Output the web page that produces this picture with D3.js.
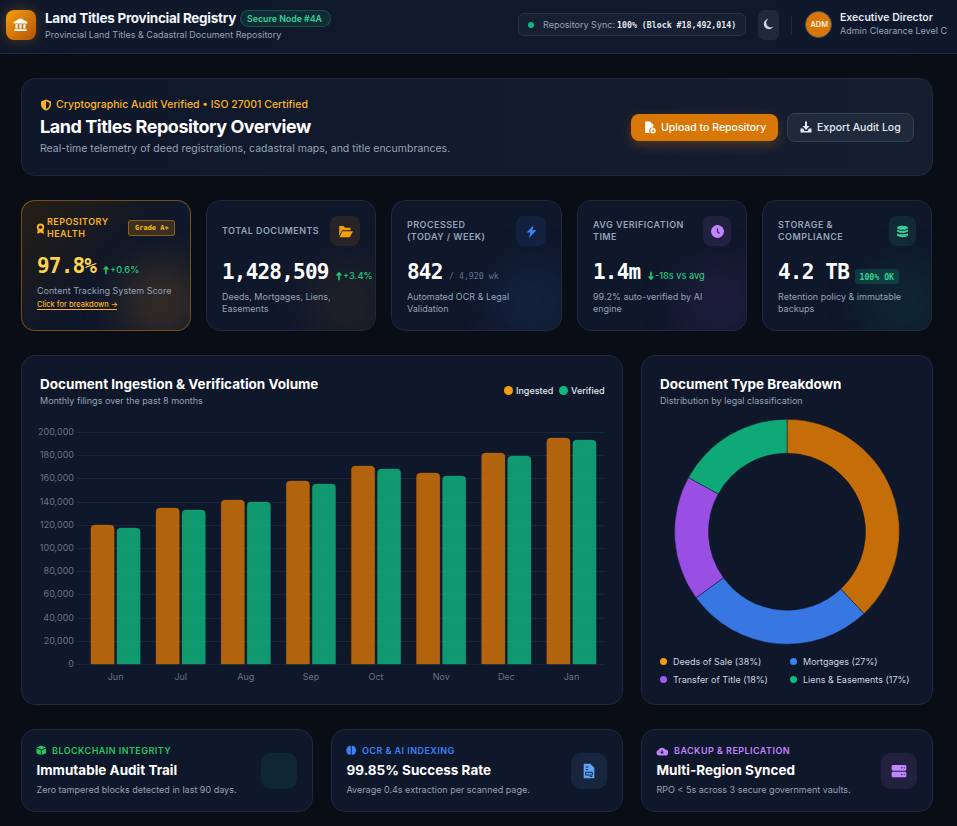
<!DOCTYPE html>
<html>
<head>
<meta charset="utf-8">
<script src="https://cdnjs.cloudflare.com/ajax/libs/d3/7.8.5/d3.min.js"></script>
<style>
html,body{margin:0;padding:0;background:#090d16;overflow:hidden}
#page{position:relative;width:957px;height:826px;overflow:hidden;background:#090d16;font-family:Inter,sans-serif}
.t{position:absolute;white-space:nowrap;line-height:20px;height:20px}
.box{position:absolute;box-sizing:border-box}
.card{position:absolute;box-sizing:border-box;background:#0f172a;border:1px solid #1e293b;border-radius:14px;overflow:hidden}
.mono{font-family:"DejaVu Sans Mono",monospace}
svg.ic{position:absolute;overflow:visible}
#charts{position:absolute;left:0;top:0}
#charts text{font-family:Inter,sans-serif}
</style>
</head>
<body>
<div id="page"></div>
<script>
// chart data
const months = ["Jun", "Jul", "Aug", "Sep", "Oct", "Nov", "Dec", "Jan"];
const ingested = [119500, 134500, 141500, 157500, 170500, 164500, 181500, 194500];
const verified = [117500, 132500, 139500, 155500, 168500, 162500, 179500, 193000];
const docTypes = ["Deeds of Sale", "Mortgages", "Transfer of Title", "Liens & Easements"];
const docShares = [38, 27, 18, 17];

const AMBER = "#f59e0b", GOLD = "#fbb424", BLUE = "#3b82f6", PURPLE = "#a855f7", GREEN = "#10b981";
const page = d3.select("#page");

// helpers: t() puts text with its vertical middle on cy
function t(x, cy, text, size, color, weight, extra, parent){
    const el = (parent || page).append("div").attr("class", "t")
        .style("left", x + "px").style("top", (cy - 10) + "px")
        .style("font-size", size + "px").style("color", color)
        .style("font-weight", weight || 400);
    el.text(text);
    if (extra) Object.keys(extra).forEach(k => el.style(k, extra[k]));
    return el;
}
function mono(x, cy, text, size, color, weight, extra){
    return t(x, cy, text, size, color, weight, extra).classed("mono", true);
}
function box(x, y, w, h, css){
    const el = page.append("div").attr("class", "box")
        .style("left", x + "px").style("top", y + "px")
        .style("width", w + "px").style("height", h + "px");
    Object.keys(css).forEach(k => el.style(k, css[k]));
    return el;
}
function card(x, y, w, h, css){
    const el = page.append("div").attr("class", "card")
        .style("left", x + "px").style("top", y + "px")
        .style("width", w + "px").style("height", h + "px");
    if (css) Object.keys(css).forEach(k => el.style(k, css[k]));
    return el;
}
function icon(x, y, size, color, inner){
    page.append("svg").attr("class", "ic")
        .style("left", x + "px").style("top", y + "px")
        .attr("width", size).attr("height", size)
        .attr("viewBox", "0 0 24 24").attr("fill", color)
        .html(inner);
}
function rgba(hex, a){
    const c = d3.rgb(hex);
    return `rgba(${c.r},${c.g},${c.b},${a})`;
}

const ICONS = {
    bank: '<polygon points="12,2 23,8 23,10.5 1,10.5 1,8"/><rect x="4" y="11.5" width="3.4" height="7"/><rect x="10.3" y="11.5" width="3.4" height="7"/><rect x="16.6" y="11.5" width="3.4" height="7"/><rect x="2" y="19.5" width="20" height="3" rx="1"/>',
    shield: '<path d="M12 1 22 5V11c0 5.500-4 10.500-10 12C6 21.500 2 16.500 2 11V5Z"/><path d="M12 4.500 19 7.300V11c0 3.800-2.500 7.500-7 9Z" fill="#111a2c"/>',
    moon: '<path d="M21 17.500A10.500 10.500 0 1 1 11 1.500 9 9 0 0 0 21 17.500Z"/>',
    upload: '<path d="M4 1h9l6 6v5.500a6 6 0 0 0-6.500 9.500H4Z"/><circle cx="18.500" cy="18" r="5"/><path d="M18.500 15.500v5M16 18h5" stroke="#d97706" stroke-width="1.500"/>',
    download: '<path d="M10 1h4v9h5l-7 8-7-8h5Z"/><path d="M1 15h5l3 5h6l3-5h5v8H1Z"/>',
    ribbon: '<circle cx="12" cy="9" r="8"/><circle cx="12" cy="9" r="3.800" fill="#1f1b1c"/><path d="M6 15l-1.500 8.500 7.500-3 7.500 3L18 15Z"/>',
    folder: '<path d="M2 3h7l2.500 3H20v4H6.500L2 19Z"/><path d="M7 11.500h17L19 21H2.500Z"/>',
    bolt: '<path d="M16 0 3 14h7L7.500 24 21 9.500h-7.500Z"/>',
    clock: '<circle cx="12" cy="12" r="12"/><path d="M12 6v7l4 2.500" fill="none" stroke="#241b3c" stroke-width="2"/>',
    database: '<ellipse cx="12" cy="5" rx="10" ry="3.800"/><path d="M2 8.500c3 3 17 3 20 0V12c-3 3.500-17 3.500-20 0Z"/><path d="M2 15c3 3 17 3 20 0v4c0 2-4.500 3.500-10 3.500S2 21 2 19Z"/>',
    cube: '<path d="M12 1 23 5.500 12 10 1 5.500Z"/><path d="M1 8l10 4V23L1 19Z"/><path d="M23 8l-10 4V23l10-4Z"/>',
    brain: '<path d="M11 2v20C6 23 2.500 20 2.500 17.500 0 14 0 10 2.500 7.500 2.500 4 7 1 11 2Z"/><path d="M13 2v20c5 1 8.500-2 8.500-4.500 2.500-3.500 2.500-7.500 0-10C21.500 4 17 1 13 2Z"/>',
    doc: '<path d="M4 1h10l6 6v16H4Z"/><path d="M7 6h4M7 10h4M7 14h10v4H7ZM13 20h4" fill="none" stroke="#13233f" stroke-width="1.500"/>',
    cloud: '<path d="M6 21a5.500 5.500 0 0 1-1-10.800A7.500 7.500 0 0 1 18.500 9a6 6 0 0 1-.5 12Z"/><path d="M12 10v6M9 13.500l3 3.500 3-3.500" fill="none" stroke="#0f172a" stroke-width="2"/>',
    server: '<rect x="1" y="3" width="22" height="8.500" rx="2"/><rect x="1" y="13" width="22" height="8.500" rx="2"/><path d="M15 7.200h2M19 7.200h1.500M15 17.200h2M19 17.200h1.500" stroke="#201a3a" stroke-width="1.500"/>',
    up: '<path d="M12 2 20 11h-6v11h-4V11H4Z"/>',
    down: '<path d="M12 22 20 13h-6V2h-4v11H4Z"/>'
};

// ---- header
box(0, 0, 957, 54, {background: "linear-gradient(90deg,#0f172a,#111a2c 60%,#0f172a)", "border-bottom": "1px solid #1e293b"});
box(6, 10, 30, 30, {background: "linear-gradient(135deg,#f59e0b,#b45309)", "border-radius": "8px", "box-shadow": "0 0 14px rgba(245,158,11,.28)"});
icon(13, 17, 15, "#fff", ICONS.bank);
t(45, 18, "Land Titles Provincial Registry", 13.500, "#f1f5f9", 700, {"letter-spacing": "-.02em"});
box(240, 10, 91, 17, {background: "rgba(16,185,129,.12)", border: "1px solid rgba(16,185,129,.3)", "border-radius": "9px"});
t(247, 18.500, "Secure Node #4A", 8.800, "#34d399", 600);
t(45, 35, "Provincial Land Titles & Cadastral Document Repository", 9, "#94a3b8", 400);

box(518, 13, 228, 23, {background: "#172033", border: "1px solid #263247", "border-radius": "6px"});
box(528, 22, 6, 6, {background: GREEN, "border-radius": "50%"});
t(543, 25, "Repository Sync:", 9, "#94a3b8", 400);
mono(617, 25, "100% (Block #18,492,014)", 8.250, "#e2e8f0", 700);
box(758, 10, 21, 30, {background: "#1e293b", "border-radius": "6px"});
icon(763, 18, 12, "#cbd5e1", ICONS.moon);
box(791, 16, 1, 18, {background: "#1e293b"});
box(805, 11, 27, 27, {background: "#d97706", border: "1px solid #475569", "border-radius": "50%"});
t(810.500, 25, "ADM", 7.500, "#fff", 500);
t(840, 18, "Executive Director", 10.500, "#e2e8f0", 600);
t(840, 31, "Admin Clearance Level C", 9, "#94a3b8", 400);

// ---- overview banner
card(21, 78, 912, 98, {background: "linear-gradient(90deg,#0f172a,#151e2f)", "border-color": "#1e293b"});
icon(39.500, 98.500, 12, GOLD, ICONS.shield);
t(56, 104.500, "Cryptographic Audit Verified • ISO 27001 Certified", 10.500, GOLD, 500);
t(40, 126.500, "Land Titles Repository Overview", 18, "#fff", 700, {"letter-spacing": "-.025em"});
t(40, 149, "Real-time telemetry of deed registrations, cadastral maps, and title encumbrances.", 10.500, "#94a3b8", 400);
box(631, 114, 147, 27, {background: "#d97706", "border-radius": "8px", "box-shadow": "0 4px 12px rgba(217,119,6,.3)"});
icon(643, 121, 13, "#fff", ICONS.upload);
t(661, 127.500, "Upload to Repository", 10.500, "#fff", 500);
box(787, 113, 127, 29, {background: "#1e293b", border: "1px solid #334155", "border-radius": "8px"});
icon(800, 121, 12, "#e2e8f0", ICONS.download);
t(817, 127.500, "Export Audit Log", 10.500, "#e2e8f0", 500);

// ---- kpi cards
const valueFont = {"letter-spacing": "-.8px"};
function kpi(x, w, glow, alpha, css){
    const c = card(x, 200, w, 131, css);
    c.append("div").style("position", "absolute").style("right", "-14px").style("bottom", "-14px")
        .style("width", "84px").style("height", "84px").style("border-radius", "50%")
        .style("background", rgba(glow, alpha)).style("filter", "blur(20px)");
}
function iconBox(x, w, color, ic, s){
    box(x, 216, w, 30, {background: rgba(color, .1), "border-radius": "8px"});
    icon(x + (w - s) / 2, 231 - s / 2, s, color, ic);
}
function kpiLabel(x, lines){
    lines.forEach((l, i) => t(x, (lines.length == 1 ? 230.500 : 224.500) + i * 12, l, 9, "#94a3b8", 600, {"letter-spacing": ".05em"}));
}
function kpiDesc(x, lines){
    lines.forEach((l, i) => t(x, 297 + i * 12, l, 9, "#94a3b8", 400));
}
function trend(x, cy, ic, text){
    icon(x, cy - 5, 10, "#22c77a", ic);
    t(x + 9, cy, text, 9.200, "#22c77a", 500);
}

kpi(21, 170, AMBER, .16, {background: "linear-gradient(135deg,rgba(245,158,11,.12),#0f172a 55%)", "border-color": "rgba(245,158,11,.42)"});
icon(35, 223, 11, GOLD, ICONS.ribbon);
t(47, 222, "REPOSITORY", 9, GOLD, 600, {"letter-spacing": ".05em"});
t(47, 234, "HEALTH", 9, GOLD, 600, {"letter-spacing": ".05em"});
box(128, 220, 47, 16, {background: "rgba(245,158,11,.18)", border: "1px solid rgba(245,158,11,.45)", "border-radius": "3px"});
mono(135, 228, "Grade A+", 7, "#fbbf24", 700);
mono(37, 266, "97.8%", 21, "#fcd34d", 700, valueFont);
trend(101, 270, ICONS.up, "+0.6%");
t(37, 291, "Content Tracking System Score", 9, "#94a3b8", 400);
t(37, 305, "Click for breakdown →", 7.500, GOLD, 500);
box(37, 309, 80, 1, {background: GOLD});

kpi(206, 170, AMBER, .07);
kpiLabel(222, ["TOTAL DOCUMENTS"]);
iconBox(330, 30, AMBER, ICONS.folder, 15);
mono(222, 272, "1,428,509", 21, "#fff", 700, valueFont);
trend(334, 276, ICONS.up, "+3.4%");
kpiDesc(222, ["Deeds, Mortgages, Liens,", "Easements"]);

kpi(391, 171, BLUE, .1);
kpiLabel(407, ["PROCESSED", "(TODAY / WEEK)"]);
iconBox(516, 30, BLUE, ICONS.bolt, 13);
mono(407, 272, "842", 21, "#fff", 700, valueFont);
mono(449, 276, "/ 4,920 wk", 8.250, "#64748b", 400);
kpiDesc(407, ["Automated OCR & Legal", "Validation"]);

kpi(577, 170, PURPLE, .09);
kpiLabel(593, ["AVG VERIFICATION", "TIME"]);
iconBox(703, 28, "#c084fc", ICONS.clock, 13);
mono(593, 272, "1.4m", 21, "#fff", 700, valueFont);
trend(646, 276, ICONS.down, "-18s vs avg");
kpiDesc(593, ["99.2% auto-verified by AI", "engine"]);

kpi(762, 170, GREEN, .09);
kpiLabel(778, ["STORAGE &", "COMPLIANCE"]);
iconBox(889, 27, "#34d399", ICONS.database, 13);
mono(778, 272, "4.2 TB", 21, "#fff", 700, valueFont);
box(855, 269, 44, 15, {background: "rgba(16,185,129,.2)", "border-radius": "3px"});
mono(859.500, 276.500, "100% OK", 8.200, "#34d399", 700);
kpiDesc(778, ["Retention policy & immutable", "backups"]);

// ---- chart cards
card(21, 355, 602, 350);
t(40, 384, "Document Ingestion & Verification Volume", 13.500, "#fff", 700);
t(40, 400.500, "Monthly filings over the past 8 months", 9, "#94a3b8", 400);
card(641, 355, 292, 350);
t(660, 384, "Document Type Breakdown", 13.500, "#fff", 700);
t(660, 400.500, "Distribution by legal classification", 9, "#94a3b8", 400);

// ---- bottom cards
function bottomCard(x, color, boxColor, ic, label, title, sub, boxIcon){
    card(x, 729, 292, 83);
    icon(x + 15, 745, ic === ICONS.cloud ? 12 : 10.500, color, ic);
    t(x + (ic === ICONS.cloud ? 33 : 31), 750.500, label, 9, color, 600, {"letter-spacing": ".05em"});
    t(x + 15.500, 770, title, 13.500, "#fff", 700);
    t(x + 15.500, 789.500, sub, 9, "#94a3b8", 400);
    box(x + 240, 753, 36, 36, {background: rgba(boxColor, .1), "border-radius": "10px"});
    if (boxIcon) icon(x + 250, 763, 16, boxColor, boxIcon);
}
bottomCard(21, "#22c55e", GREEN, ICONS.cube, "BLOCKCHAIN INTEGRITY", "Immutable Audit Trail", "Zero tampered blocks detected in last 90 days.", null);
bottomCard(331, "#3b82f6", "#60a5fa", ICONS.brain, "OCR & AI INDEXING", "99.85% Success Rate", "Average 0.4s extraction per scanned page.", ICONS.doc);
bottomCard(641, "#c084fc", "#c084fc", ICONS.cloud, "BACKUP & REPLICATION", "Multi-Region Synced", "RPO < 5s across 3 secure government vaults.", ICONS.server);

// ---- charts
const svg = page.append("svg").attr("id", "charts").attr("width", 957).attr("height", 826);

// legend of the bar chart
const barSeries = [
    {name: "Ingested", color: "#d97706", dot: AMBER, values: ingested, cx: 508.500, tx: 516},
    {name: "Verified", color: GREEN, dot: GREEN, values: verified, cx: 563.500, tx: 571}
];
barSeries.forEach(s => {
    svg.append("circle").attr("cx", s.cx).attr("cy", 390.500).attr("r", 4.500).attr("fill", s.dot);
    svg.append("text").attr("x", s.tx).attr("y", 394).attr("font-size", 9)
        .attr("font-weight", 500).attr("fill", "#e2e8f0").text(s.name);
});

const y = d3.scaleLinear().domain([0, 200000]).rangeRound([664, 432]);
const x0 = d3.scaleBand().domain(months).range([83, 604]).paddingInner(0.243).paddingOuter(0.1215);
const x1 = d3.scaleBand().domain(barSeries.map(s => s.name)).range([0, x0.bandwidth()]).paddingInner(0.104);

const yAxis = svg.append("g").attr("transform", "translate(77,0)")
    .call(d3.axisLeft(y).ticks(10).tickFormat(d3.format(",")).tickSizeInner(-527).tickSizeOuter(0).tickPadding(3));
yAxis.select(".domain").remove();
yAxis.selectAll("line").attr("stroke", "#1b2538");
yAxis.selectAll("text").attr("fill", "#64748b").attr("font-size", 9);

const xAxis = svg.append("g").attr("transform", "translate(0,664)")
    .call(d3.axisBottom(x0).tickSize(0).tickPadding(10));
xAxis.select(".domain").remove();
xAxis.selectAll("text").attr("fill", "#64748b").attr("font-size", 9);

function topRounded(bx, by, w, h, r){
    return `M${bx},${by + h}V${by + r}Q${bx},${by} ${bx + r},${by}H${bx + w - r}Q${bx + w},${by} ${bx + w},${by + r}V${by + h}Z`;
}
barSeries.forEach(s => {
    svg.append("g").selectAll("path").data(s.values).join("path")
        .attr("d", (d, i) => topRounded(x0(months[i]) + x1(s.name), y(d), x1.bandwidth(), y(0) - y(d), 4))
        .attr("fill", s.color).attr("fill-opacity", 0.8)
        .attr("stroke", s.color).attr("stroke-opacity", 0.25);
});

// donut
const pie = d3.pie().sort(null);
const arc = d3.arc().innerRadius(78.500).outerRadius(112.500);
const donutColors = ["#d97706", BLUE, PURPLE, GREEN];
svg.append("g").attr("transform", "translate(787,531.700)")
    .selectAll("path").data(pie(docShares)).join("path")
    .attr("d", arc).attr("fill", (d, i) => donutColors[i]).attr("fill-opacity", 0.9)
    .attr("stroke", "#0f172a").attr("stroke-width", 0.5);

const legendDots = [AMBER, BLUE, PURPLE, GREEN];
const legend = svg.append("g").selectAll("g").data(docTypes).join("g")
    .attr("transform", (d, i) => `translate(${i % 2 ? 793.500 : 663.500},${i < 2 ? 661.500 : 679.500})`);
legend.append("circle").attr("r", 3.500).attr("fill", (d, i) => legendDots[i]);
legend.append("text").attr("x", 9.500).attr("y", 3.500).attr("font-size", 9)
    .attr("fill", "#cbd5e1").text((d, i) => `${d} (${docShares[i]}%)`);
</script>
</body>
</html>
